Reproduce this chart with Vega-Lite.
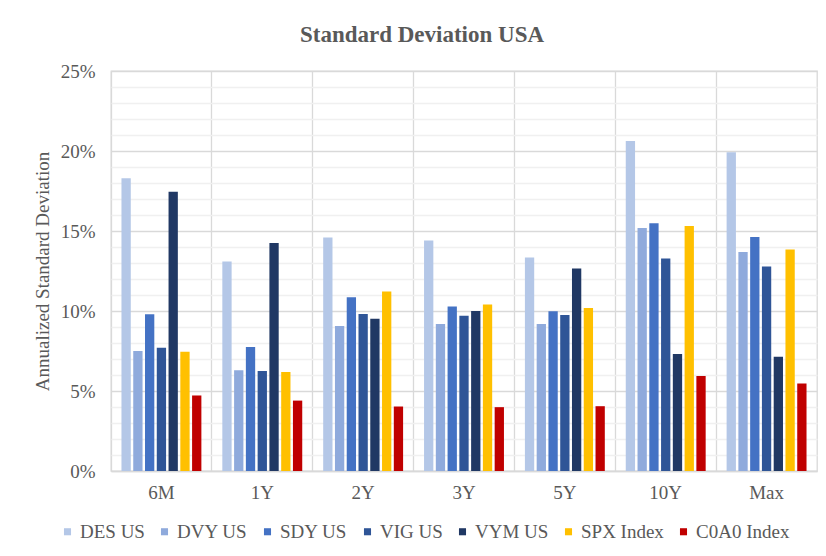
{
  "$schema": "https://vega.github.io/schema/vega-lite/v6.json",
  "width": 706,
  "height": 400,
  "autosize": {"type": "none"},
  "padding": {"left": 111, "top": 71, "right": 9, "bottom": 85},
  "background": "white",
  "title": {"text": "Standard Deviation USA", "font": "Liberation Serif", "fontSize": 23, "fontWeight": "bold", "color": "#595959", "anchor": "middle", "dx": -42, "offset": 15},
  "data": {"values": [
    {"period": "6M", "series": "DES US", "value": 18.3},
    {"period": "6M", "series": "DVY US", "value": 7.5},
    {"period": "6M", "series": "SDY US", "value": 9.8},
    {"period": "6M", "series": "VIG US", "value": 7.7},
    {"period": "6M", "series": "VYM US", "value": 17.45},
    {"period": "6M", "series": "SPX Index", "value": 7.45},
    {"period": "6M", "series": "C0A0 Index", "value": 4.72},
    {"period": "1Y", "series": "DES US", "value": 13.1},
    {"period": "1Y", "series": "DVY US", "value": 6.3},
    {"period": "1Y", "series": "SDY US", "value": 7.75},
    {"period": "1Y", "series": "VIG US", "value": 6.25},
    {"period": "1Y", "series": "VYM US", "value": 14.25},
    {"period": "1Y", "series": "SPX Index", "value": 6.18},
    {"period": "1Y", "series": "C0A0 Index", "value": 4.4},
    {"period": "2Y", "series": "DES US", "value": 14.6},
    {"period": "2Y", "series": "DVY US", "value": 9.07},
    {"period": "2Y", "series": "SDY US", "value": 10.86},
    {"period": "2Y", "series": "VIG US", "value": 9.82},
    {"period": "2Y", "series": "VYM US", "value": 9.52},
    {"period": "2Y", "series": "SPX Index", "value": 11.22},
    {"period": "2Y", "series": "C0A0 Index", "value": 4.03},
    {"period": "3Y", "series": "DES US", "value": 14.4},
    {"period": "3Y", "series": "DVY US", "value": 9.19},
    {"period": "3Y", "series": "SDY US", "value": 10.28},
    {"period": "3Y", "series": "VIG US", "value": 9.71},
    {"period": "3Y", "series": "VYM US", "value": 10.0},
    {"period": "3Y", "series": "SPX Index", "value": 10.4},
    {"period": "3Y", "series": "C0A0 Index", "value": 3.99},
    {"period": "5Y", "series": "DES US", "value": 13.35},
    {"period": "5Y", "series": "DVY US", "value": 9.19},
    {"period": "5Y", "series": "SDY US", "value": 9.98},
    {"period": "5Y", "series": "VIG US", "value": 9.75},
    {"period": "5Y", "series": "VYM US", "value": 12.66},
    {"period": "5Y", "series": "SPX Index", "value": 10.19},
    {"period": "5Y", "series": "C0A0 Index", "value": 4.05},
    {"period": "10Y", "series": "DES US", "value": 20.63},
    {"period": "10Y", "series": "DVY US", "value": 15.18},
    {"period": "10Y", "series": "SDY US", "value": 15.48},
    {"period": "10Y", "series": "VIG US", "value": 13.28},
    {"period": "10Y", "series": "VYM US", "value": 7.31},
    {"period": "10Y", "series": "SPX Index", "value": 15.31},
    {"period": "10Y", "series": "C0A0 Index", "value": 5.93},
    {"period": "Max", "series": "DES US", "value": 19.92},
    {"period": "Max", "series": "DVY US", "value": 13.68},
    {"period": "Max", "series": "SDY US", "value": 14.62},
    {"period": "Max", "series": "VIG US", "value": 12.78},
    {"period": "Max", "series": "VYM US", "value": 7.14},
    {"period": "Max", "series": "SPX Index", "value": 13.85},
    {"period": "Max", "series": "C0A0 Index", "value": 5.47}
  ]},
  "mark": {"type": "bar"},
  "encoding": {
    "x": {
      "field": "period", "type": "nominal",
      "sort": ["6M", "1Y", "2Y", "3Y", "5Y", "10Y", "Max"],
      "scale": {"paddingInner": 0, "paddingOuter": 0},
      "axis": {"title": null, "bandPosition": 0, "labelOffset": 0, "grid": true, "gridColor": "#d9d9d9", "gridWidth": 1.3, "ticks": false, "domainColor": "#d9d9d9", "domainWidth": 1.3, "labelAngle": 0, "labelFont": "Liberation Serif", "labelFontSize": 19, "labelColor": "#595959", "labelPadding": 12}
    },
    "xOffset": {
      "field": "series", "type": "nominal",
      "sort": ["DES US", "DVY US", "SDY US", "VIG US", "VYM US", "SPX Index", "C0A0 Index"],
      "scale": {"paddingInner": 0.21, "paddingOuter": 0.89}
    },
    "y": {
      "field": "value", "type": "quantitative",
      "scale": {"domain": [0, 25], "nice": false},
      "axis": {
        "title": "Annualized Standard Deviation",
        "titleFont": "Liberation Serif", "titleFontSize": 19, "titleFontWeight": "normal", "titleColor": "#595959", "titlePadding": 8,
        "values": [0,1,2,3,4,5,6,7,8,9,10,11,12,13,14,15,16,17,18,19,20,21,22,23,24,25],
        "labelExpr": "datum.value % 5 === 0 ? datum.value + '%' : ''",
        "labelOverlap": false,
        "labelFont": "Liberation Serif", "labelFontSize": 19, "labelColor": "#595959", "labelPadding": 16,
        "gridColor": {"condition": {"test": "datum.value % 5 === 0", "value": "#d9d9d9"}, "value": "#f0f0f0"},
        "gridWidth": 1.3,
        "domain": false, "ticks": false
      }
    },
    "color": {
      "field": "series", "type": "nominal",
      "sort": ["DES US", "DVY US", "SDY US", "VIG US", "VYM US", "SPX Index", "C0A0 Index"],
      "scale": {"domain": ["DES US", "DVY US", "SDY US", "VIG US", "VYM US", "SPX Index", "C0A0 Index"], "range": ["#B4C7E7", "#8FAADC", "#4472C4", "#2F5597", "#203864", "#FFC000", "#C00000"]},
      "legend": {"orient": "none", "legendX": -53, "legendY": 451, "direction": "horizontal", "title": null, "symbolType": "square", "symbolSize": 50, "symbolStrokeWidth": 0, "labelFont": "Liberation Serif", "labelFontSize": 19, "labelColor": "#595959", "columnPadding": 10, "labelOffset": 3}
    }
  },
  "config": {"view": {"stroke": "#d9d9d9", "strokeWidth": 1.3}}
}
